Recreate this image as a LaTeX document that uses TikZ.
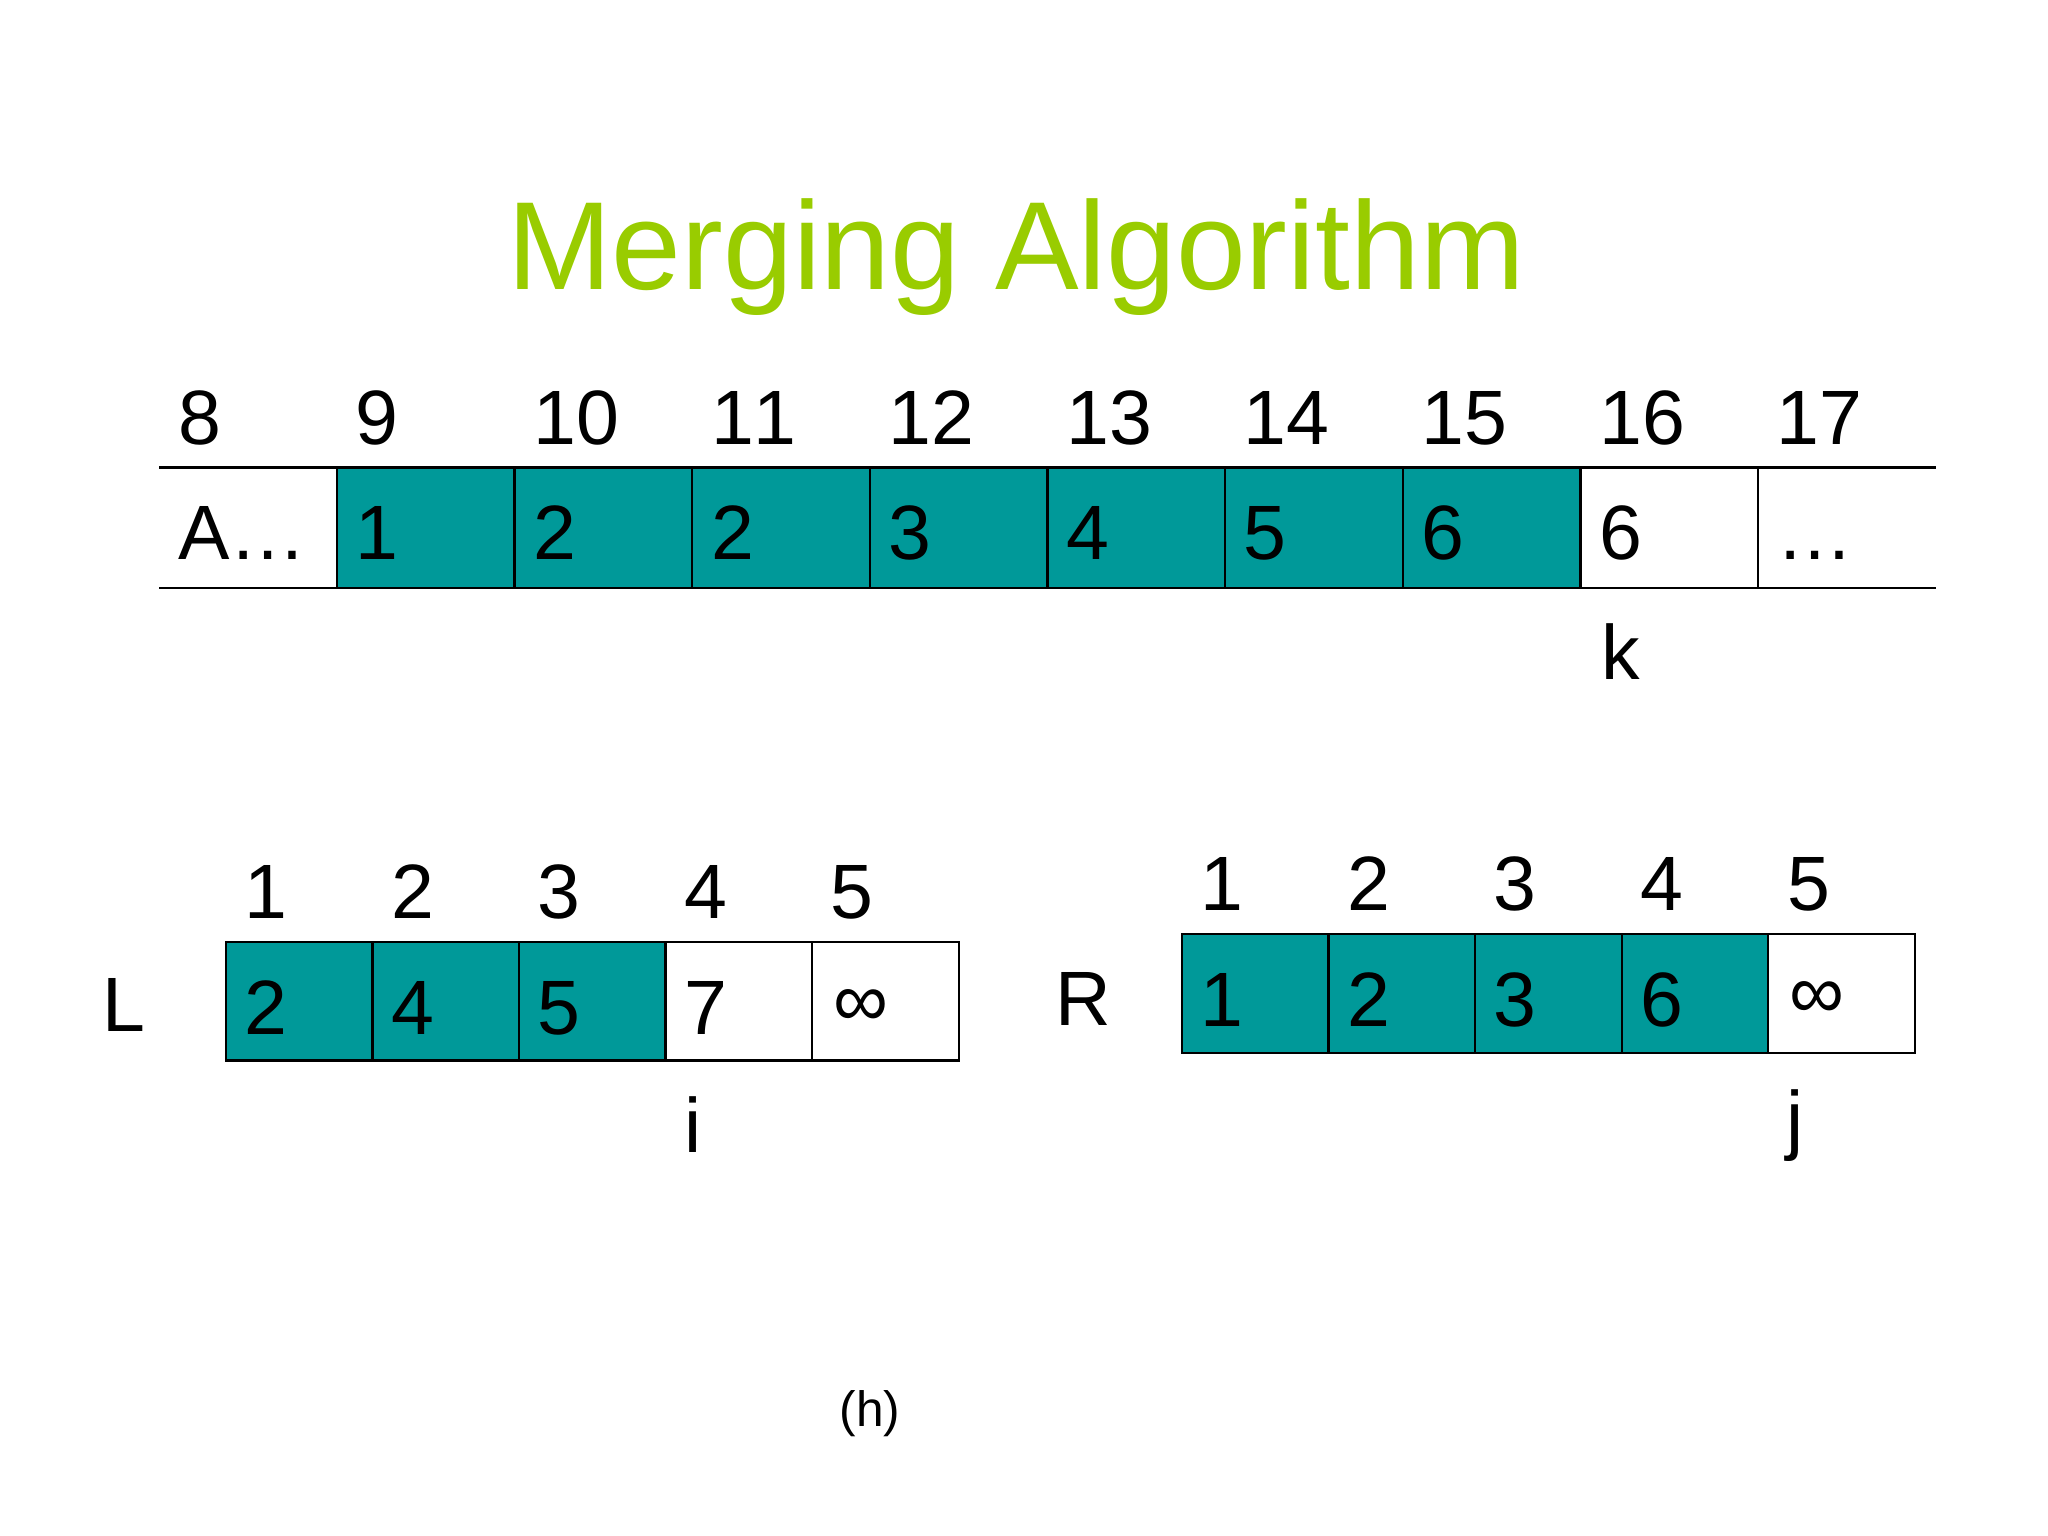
\documentclass[tikz,border=0pt]{standalone}
\usepackage{fontspec}
\setmainfont[Kerning=Off]{Liberation Sans}
\definecolor{tealc}{RGB}{0,153,153}
\definecolor{titlegreen}{RGB}{153,204,0}
\begin{document}
\begin{tikzpicture}[x=0.5pt,y=-0.5pt,
  txt/.style={inner sep=0pt, anchor=base west, font=\fontsize{29.5}{34}\selectfont},
  topcell/.style={rectangle, inner sep=0pt, outer sep=0pt, minimum width=68pt, minimum height=46pt},
  smallcell/.style={rectangle, inner sep=0pt, outer sep=0pt, minimum width=56.1pt, minimum height=45.5pt},
  border/.style={draw=black, line width=0.9pt},
  filled/.style={fill=tealc}
]
\useasboundingbox (0,0) rectangle (1568,1176);

% title
\node[inner sep=0pt, anchor=base, text=titlegreen, font=\fontsize{48}{56}\selectfont] (title) at (778,222) {Merging Algorithm};

% ---- top array A ----
\foreach \n in {0,...,9} {
  \pgfmathtruncatemacro\idx{\n+8}
  \node[topcell] (a\idx) at ({122+68+136*\n},404) {};
}
\fill[tealc] (a9.north west) rectangle (a15.south east);
\foreach \idx in {9,...,17} \draw[border] (a\idx.north west) -- (a\idx.south west);
\draw[border] (a8.north west) -- (a17.north east);
\draw[border] (a8.south west) -- (a17.south east);

\foreach \v [count=\n from 0] in {A…,1,2,2,3,4,5,6,6,…} {
  \pgfmathtruncatemacro\idx{\n+8}
  \node[txt] (va\idx) at ({122+136*\n+14},428) {\v};
  \node[txt] (ia\idx) at ({122+136*\n+14},340) {\idx};
}
\node[txt] (k) at (1226,520) {k};

% ---- L array ----
\foreach \n in {1,...,5} {
  \node[smallcell] (l\n) at ({173+56.1+112.2*(\n-1)},766.5) {};
}
\fill[tealc] (l1.north west) rectangle (l3.south east);
\foreach \n in {1,...,5} \draw[border] (l\n.north west) rectangle (l\n.south east);
\foreach \v [count=\n] in {2,4,5,7} {
  \node[txt] (vl\n) at ({173+112.2*(\n-1)+14},792) {\v};
}
\node[txt] (vl5) at ({173+112.2*4+16},786) {∞};
\foreach \n in {1,...,5} \node[txt] (il\n) at ({173+112.2*(\n-1)+14},703) {\n};
\node[txt] (Lname) at (78,790) {L};
\node[txt] (i) at (524,882) {i};

% ---- R array ----
\foreach \n in {1,...,5} {
  \node[smallcell] (r\n) at ({905+56.1+112.2*(\n-1)},760.5) {};
}
\fill[tealc] (r1.north west) rectangle (r4.south east);
\foreach \n in {1,...,5} \draw[border] (r\n.north west) rectangle (r\n.south east);
\foreach \v [count=\n] in {1,2,3,6} {
  \node[txt] (vr\n) at ({905+112.2*(\n-1)+14},786) {\v};
}
\node[txt] (vr5) at ({905+112.2*4+16},780) {∞};
\foreach \n in {1,...,5} \node[txt] (ir\n) at ({905+112.2*(\n-1)+14},697) {\n};
\node[txt] (Rname) at (808,785) {R};
\node[txt] (j) at (1367,877) {j};

% caption
\node[inner sep=0pt, anchor=base, font=\fontsize{19}{22}\selectfont] (cap) at (666,1092) {(h)};
\end{tikzpicture}
\end{document}
